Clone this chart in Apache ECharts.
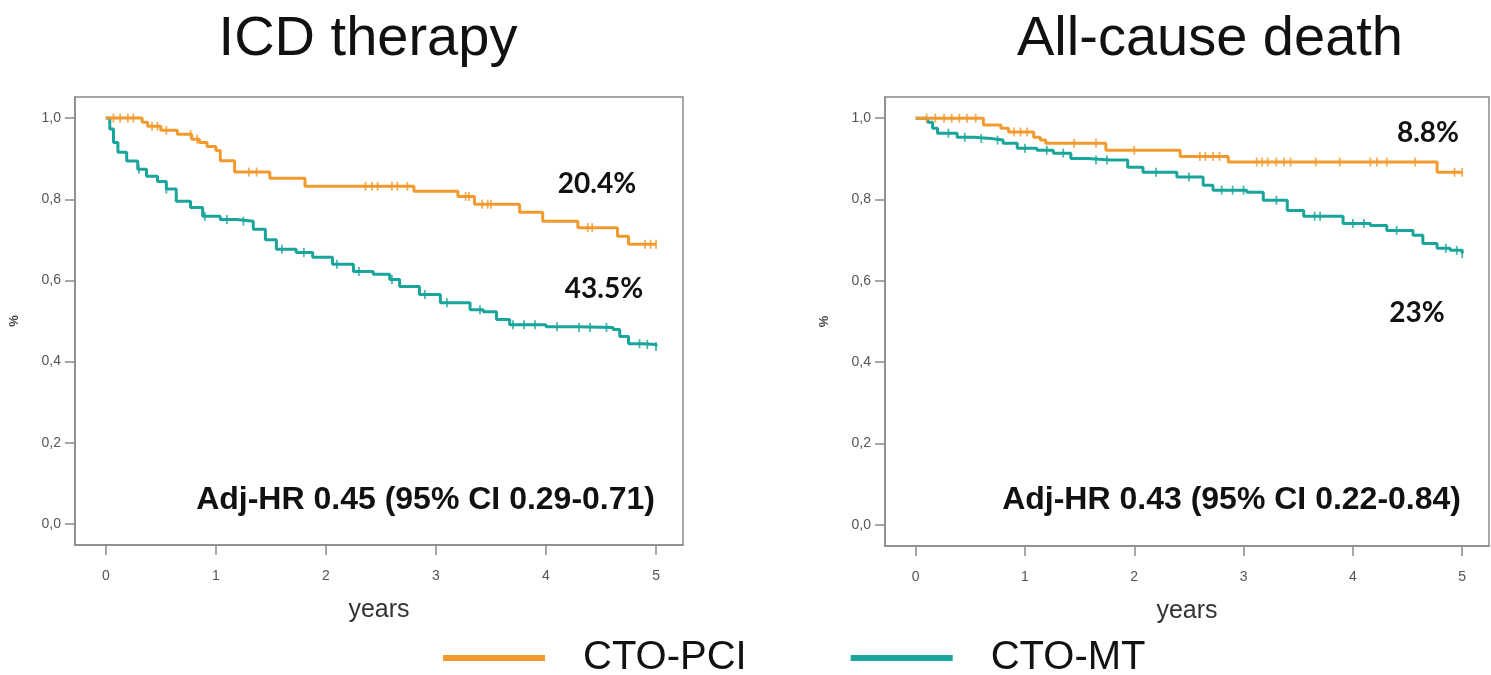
<!DOCTYPE html>
<html>
<head>
<meta charset="utf-8">
<script src="https://cdn.jsdelivr.net/npm/echarts@6/dist/echarts.min.js"></script>
<style>
html,body{margin:0;padding:0;background:#fff;}
#chart{width:1491px;height:675px;}
</style>
</head>
<body>
<div id="chart"></div>
<script>
// ---------- data ----------
const panelTitles = ['ICD therapy', 'All-cause death'];
const seriesNames = ['CTO-PCI', 'CTO-MT'];
const xTicks = [0, 1, 2, 3, 4, 5];
const yTicks = [0, 0.2, 0.4, 0.6, 0.8, 1.0];

// ICD therapy – CTO-PCI
const icdPciT = [0, 0.33, 0.38, 0.5, 0.65, 0.78, 0.85, 0.92, 1.0, 1.04, 1.17, 1.49, 1.81, 2.8, 3.2, 3.35, 3.76, 3.97, 4.29, 4.65, 4.75, 5.0];
const icdPciS = [1.0, 0.99, 0.98, 0.97, 0.96, 0.948, 0.94, 0.93, 0.92, 0.895, 0.867, 0.852, 0.832, 0.82, 0.807, 0.788, 0.768, 0.746, 0.73, 0.709, 0.689, 0.689];
const icdPciCensor = [0.07, 0.13, 0.2, 0.25, 0.42, 0.47, 0.55, 0.77, 0.83, 1.3, 1.37, 2.36, 2.42, 2.47, 2.6, 2.65, 2.74, 3.27, 3.3, 3.42, 3.47, 3.5, 4.38, 4.42, 4.9, 4.95, 5.0];

// ICD therapy – CTO-MT
const icdMtT = [0, 0.036, 0.07, 0.11, 0.19, 0.29, 0.37, 0.47, 0.55, 0.64, 0.77, 0.88, 1.04, 1.19, 1.34, 1.45, 1.55, 1.73, 1.88, 2.06, 2.25, 2.43, 2.58, 2.67, 2.85, 3.04, 3.19, 3.31, 3.43, 3.55, 3.67, 3.85, 4.0, 4.28, 4.61, 4.67, 4.75, 4.88, 5.0];
const icdMtS = [1.0, 0.973, 0.94, 0.916, 0.894, 0.874, 0.857, 0.844, 0.825, 0.795, 0.78, 0.758, 0.75, 0.746, 0.726, 0.70, 0.677, 0.669, 0.657, 0.64, 0.622, 0.615, 0.602, 0.585, 0.565, 0.545, 0.545, 0.528, 0.523, 0.504, 0.491, 0.491, 0.486, 0.484, 0.479, 0.462, 0.444, 0.442, 0.437];
const icdMtCensor = [0.3, 0.55, 0.9, 1.1, 1.25, 1.6, 1.8, 2.1, 2.3, 2.6, 2.9, 3.1, 3.4, 3.7, 3.8, 3.9, 4.1, 4.3, 4.4, 4.55, 4.85, 4.92, 5.0];

// All-cause death – CTO-PCI
const deathPciT = [0, 0.62, 0.78, 0.85, 1.08, 1.14, 1.19, 1.74, 2.42, 2.86, 4.77, 5.0];
const deathPciS = [1.0, 0.983, 0.975, 0.966, 0.953, 0.946, 0.938, 0.921, 0.906, 0.892, 0.867, 0.867];
const deathPciCensor = [0.1, 0.18, 0.26, 0.33, 0.4, 0.47, 0.55, 0.9, 0.96, 1.02, 1.45, 1.65, 2.0, 2.6, 2.65, 2.72, 2.78, 3.12, 3.17, 3.22, 3.3, 3.37, 3.43, 3.66, 3.88, 4.16, 4.22, 4.31, 4.57, 4.93, 5.0];

// All-cause death – CTO-MT
const deathMtT = [0, 0.11, 0.155, 0.2, 0.38, 0.53, 0.69, 0.8, 0.93, 1.11, 1.26, 1.42, 1.57, 1.78, 1.94, 2.08, 2.27, 2.39, 2.54, 2.63, 2.72, 3.03, 3.18, 3.4, 3.55, 3.77, 3.91, 4.16, 4.31, 4.55, 4.64, 4.77, 4.89, 5.0];
const deathMtS = [1.0, 0.99, 0.975, 0.963, 0.953, 0.95, 0.946, 0.938, 0.926, 0.921, 0.914, 0.901, 0.897, 0.897, 0.879, 0.867, 0.867, 0.855, 0.855, 0.835, 0.823, 0.818, 0.798, 0.773, 0.759, 0.759, 0.741, 0.736, 0.724, 0.712, 0.692, 0.68, 0.675, 0.667];
const deathMtCensor = [0.3, 0.45, 0.6, 0.75, 1.0, 1.2, 1.35, 1.65, 1.75, 2.2, 2.5, 2.8, 2.9, 3.0, 3.3, 3.65, 3.7, 4.0, 4.1, 4.4, 4.85, 4.95, 5.0];

const eventLabels = [['20.4%', '43.5%'], ['8.8%', '23%']];
const hrLabels = ['Adj-HR 0.45 (95% CI 0.29-0.71)', 'Adj-HR 0.43 (95% CI 0.22-0.84)'];

// ---------- helpers ----------
const ORANGE = '#F39A2E';
const TEAL = '#1AA59C';
function pairs(t, s) { return t.map((v, i) => [v, s[i]]); }
function stepAt(t, s, x) {
  let v = s[0];
  for (let i = 0; i < t.length; i++) { if (t[i] <= x) v = s[i]; }
  return v;
}
function censorPts(t, s, c) { return c.map(x => [x, stepAt(t, s, x)]); }

const chart = echarts.init(document.getElementById('chart'), null, {renderer: 'canvas'});

function xAxisCfg(gi) {
  return {
    gridIndex: gi, type: 'value', min: -0.28, max: 5.245,
    axisLine: {show: true, onZero: false, lineStyle: {color: '#8a8a8a', width: 1.5}},
    axisTick: {show: true, customValues: xTicks, length: 10, lineStyle: {color: '#8a8a8a', width: 1.5}},
    axisLabel: {customValues: xTicks, color: '#555', fontSize: 14, fontFamily: 'Liberation Sans', margin: 24},
    splitLine: {show: false},
    name: 'years', nameLocation: 'middle', nameGap: 53,
    nameTextStyle: {fontSize: 25, color: '#333', fontFamily: 'Liberation Sans'}
  };
}
function yAxisCfg(gi) {
  return {
    gridIndex: gi, type: 'value', min: -0.052, max: 1.052,
    axisLine: {show: true, onZero: false, lineStyle: {color: '#8a8a8a', width: 1.5}},
    axisTick: {show: true, customValues: yTicks, length: 10, lineStyle: {color: '#8a8a8a', width: 1.5}},
    axisLabel: {customValues: yTicks, color: '#555', fontSize: 14, fontFamily: 'Liberation Sans', margin: 14,
      formatter: v => v.toFixed(1).replace('.', ',')},
    splitLine: {show: false},
    name: '%', nameLocation: 'middle', nameGap: 54, nameRotate: 90,
    nameTextStyle: {fontSize: 13, color: '#444', fontWeight: 'bold', fontFamily: 'Liberation Sans'}
  };
}
function lineSeries(name, gi, t, s, color) {
  return {
    name: name, type: 'line', xAxisIndex: gi, yAxisIndex: gi, step: 'end',
    data: pairs(t, s), showSymbol: false, symbol: 'none',
    lineStyle: {color: color, width: 3}, itemStyle: {color: color}, silent: true, z: 3
  };
}
function censorSeries(gi, t, s, c, color) {
  return {
    name: 'censor', type: 'scatter', xAxisIndex: gi, yAxisIndex: gi,
    data: censorPts(t, s, c), symbol: 'rect', symbolSize: [1.8, 9],
    itemStyle: {color: color}, silent: true, z: 4
  };
}

const titleStyle = {fontFamily: 'Liberation Sans', fontSize: 56, fill: '#111', align: 'center', verticalAlign: 'middle'};
const pctStyle = {fontFamily: 'Lato', fontWeight: 'bold', fontSize: 28, fill: '#111', align: 'center', verticalAlign: 'middle'};
const hrStyle = {fontFamily: 'Liberation Sans', fontWeight: 'bold', fontSize: 32, fill: '#111', align: 'right', verticalAlign: 'middle'};

const option = {
  animation: false,
  backgroundColor: '#fff',
  grid: [
    {left: 75, top: 97, width: 608, height: 448, show: true, borderColor: '#8a8a8a', borderWidth: 1.5, containLabel: false},
    {left: 885, top: 97, width: 604, height: 449, show: true, borderColor: '#8a8a8a', borderWidth: 1.5, containLabel: false}
  ],
  xAxis: [xAxisCfg(0), xAxisCfg(1)],
  yAxis: [yAxisCfg(0), yAxisCfg(1)],
  legend: {
    data: seriesNames, left: 438, top: 633, icon: 'rect', itemWidth: 102, itemHeight: 6, itemGap: 104,
    itemStyle: {borderWidth: 0},
    textStyle: {fontFamily: 'Liberation Sans', fontSize: 40, color: '#111', padding: [0, 0, 0, 33]}
  },
  series: [
    lineSeries(seriesNames[1], 0, icdMtT, icdMtS, TEAL),
    censorSeries(0, icdMtT, icdMtS, icdMtCensor, TEAL),
    lineSeries(seriesNames[0], 0, icdPciT, icdPciS, ORANGE),
    censorSeries(0, icdPciT, icdPciS, icdPciCensor, ORANGE),
    lineSeries(seriesNames[1], 1, deathMtT, deathMtS, TEAL),
    censorSeries(1, deathMtT, deathMtS, deathMtCensor, TEAL),
    lineSeries(seriesNames[0], 1, deathPciT, deathPciS, ORANGE),
    censorSeries(1, deathPciT, deathPciS, deathPciCensor, ORANGE)
  ],
  graphic: [
    {type: 'text', x: 368, y: 40, style: Object.assign({text: panelTitles[0]}, titleStyle)},
    {type: 'text', x: 1210, y: 40, style: Object.assign({text: panelTitles[1]}, titleStyle)},
    {type: 'text', x: 597, y: 184, style: Object.assign({text: eventLabels[0][0]}, pctStyle)},
    {type: 'text', x: 604, y: 289, style: Object.assign({text: eventLabels[0][1]}, pctStyle)},
    {type: 'text', x: 1428, y: 133, style: Object.assign({text: eventLabels[1][0]}, pctStyle)},
    {type: 'text', x: 1417, y: 313, style: Object.assign({text: eventLabels[1][1]}, pctStyle)},
    {type: 'text', x: 655, y: 500, style: Object.assign({text: hrLabels[0]}, hrStyle)},
    {type: 'text', x: 1461, y: 500, style: Object.assign({text: hrLabels[1]}, hrStyle)}
  ]
};
chart.setOption(option);
</script>
</body>
</html>
